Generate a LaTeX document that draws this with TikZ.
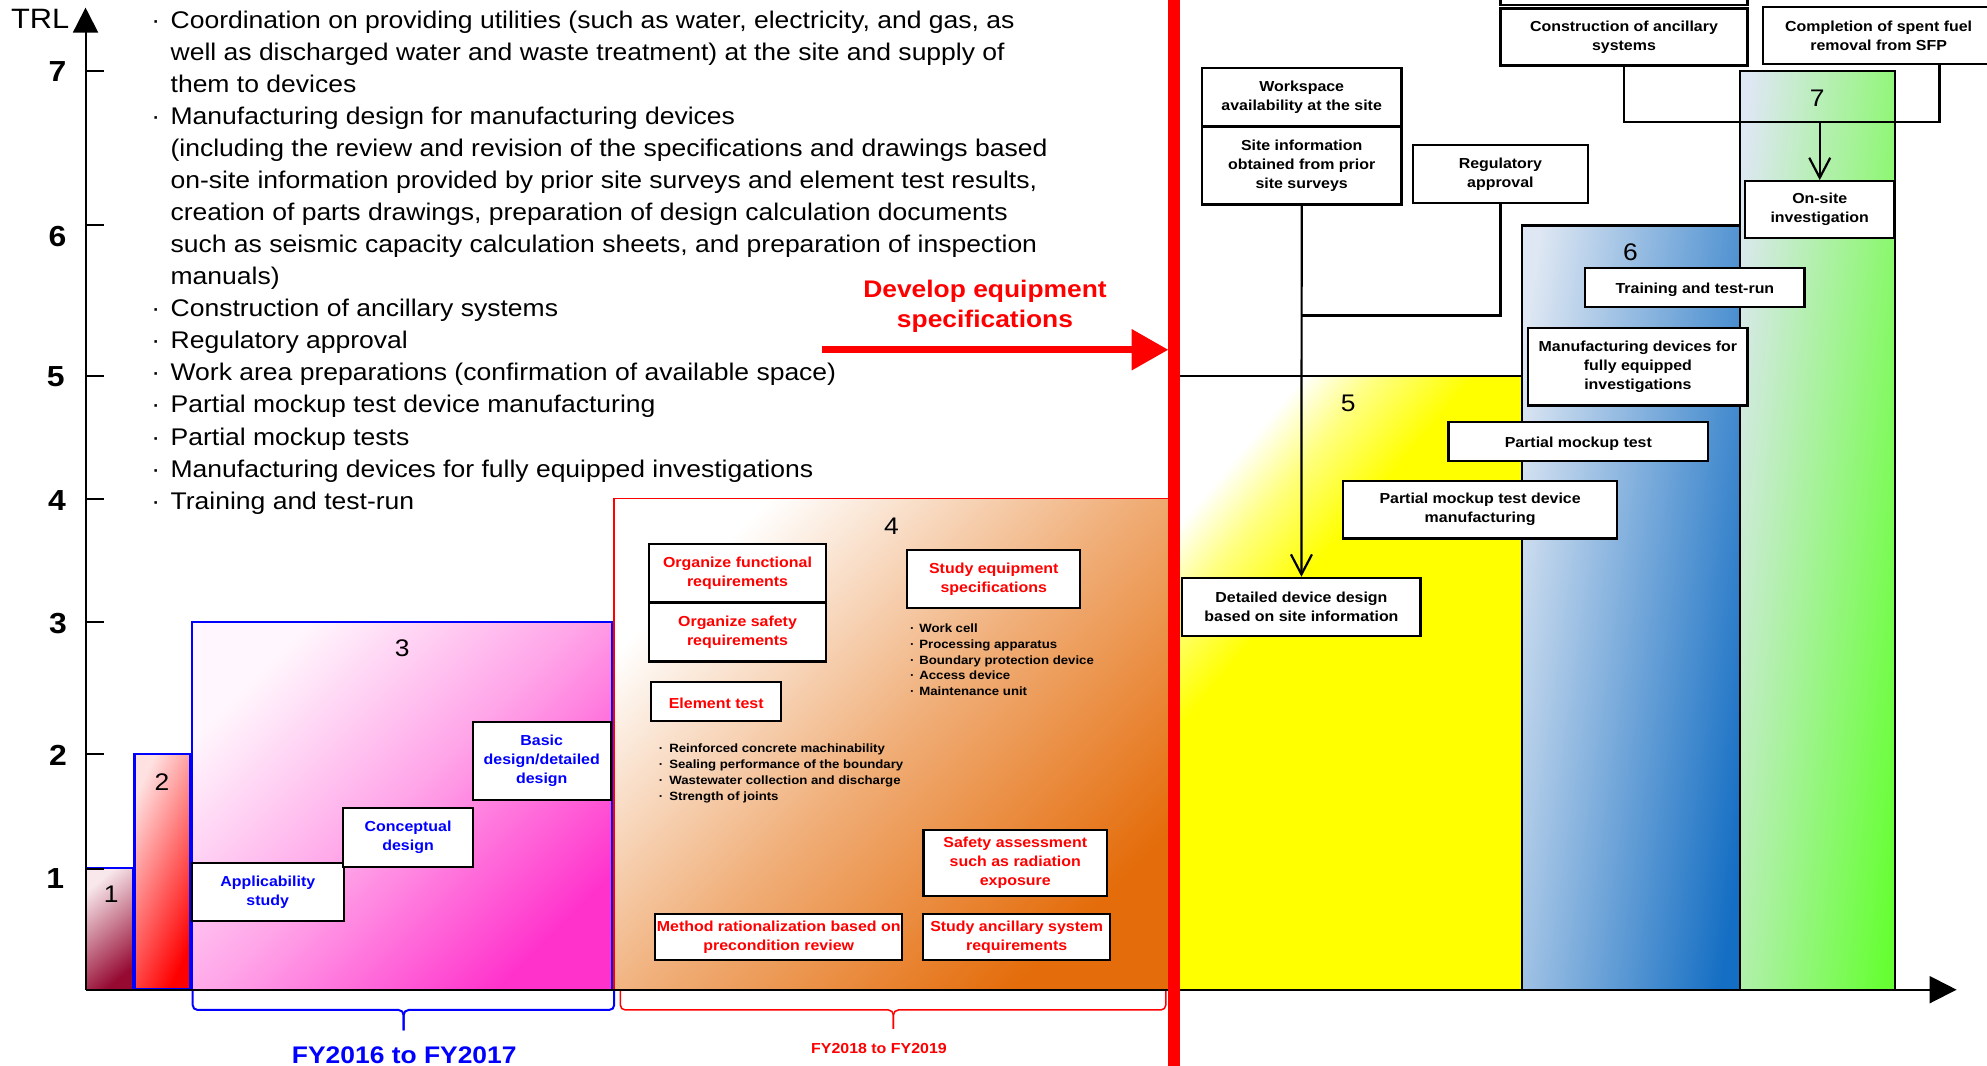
\documentclass[tikz,border=0pt]{standalone}
\usepackage{fontspec}
\setmainfont[FakeStretch=1.1]{Liberation Sans}
\usetikzlibrary{arrows.meta}

\definecolor{barOneDark}{RGB}{150,10,50}
\definecolor{barOneLight}{RGB}{248,232,236}
\definecolor{barTwoLight}{RGB}{255,225,225}
\definecolor{barThree}{RGB}{255,51,204}
\definecolor{barFour}{RGB}{228,108,10}
\definecolor{barSixLight}{RGB}{222,231,243}
\definecolor{barSix}{RGB}{20,110,195}
\definecolor{barSeven}{RGB}{102,255,51}

% white corner fading quickly into solid yellow
\pgfdeclarehorizontalshading{barfive}{100bp}{color(0bp)=(white); color(25bp)=(white); color(31bp)=(yellow!50!white); color(39bp)=(yellow); color(100bp)=(yellow)}

\newcommand\fList{\fontsize{24.1}{32}\selectfont}
\newcommand\fBox{\bfseries\fontsize{14.5}{19}\selectfont}
\newcommand\fBul{\bfseries\fontsize{12}{16}\selectfont}
\newcommand\fNum{\fontsize{24}{28}\selectfont}
\newcommand\fAxis{\bfseries\fontsize{29}{32}\selectfont}
\newcommand\fHead{\bfseries\fontsize{24}{29}\selectfont}
\newcommand\fPer{\bfseries\fontsize{24}{29}\selectfont}
\newcommand\fPerS{\bfseries\fontsize{14.5}{18}\selectfont}

\tikzset{
  bx/.style={draw=black,line width=2.2pt,fill=white,align=center,inner sep=0pt,font=\fBox,
    execute at begin node={\rule{0pt}{14.5pt}}},
  ml/.style={execute at begin node={\rule{0pt}{18.5pt}}},
  sz/.style 2 args={minimum width=#1*1.2672pt,minimum height=#2*1.2672pt},
  conn/.style={draw=black,line width=2.2pt},
  vtip/.style={-{Straight Barb[length=20pt,width=21pt]}},
  txt/.style={inner sep=0pt,anchor=base west},
  bul/.style={inner sep=0pt,anchor=base},
  num/.style={inner sep=0pt,font=\fNum},
  axnum/.style={inner sep=0pt,font=\fAxis},
}

\begin{document}
\begin{tikzpicture}[x=1.2672pt,y=-1.2672pt]
\clip (0,0) rectangle (1568,841);
\fill[white] (0,0) rectangle (1568,841);

% ---- TRL bars ----
\path[top color=barOneLight,bottom color=barOneDark,middle color=barOneDark!50!barOneLight,shading angle=40] (67.5,685) rectangle (105.3,781);
\path[top color=barTwoLight,bottom color=red,shading angle=65] (106.3,595) rectangle (149.8,781);
\path[top color=barThree!4!white,bottom color=barThree,middle color=barThree!45!white,shading angle=45] (151.4,490.6) rectangle (483.1,781);
\path[top color=white,bottom color=barFour,middle color=barFour!55!white,shading angle=45] (484.5,393.5) rectangle (922,781);
\path[shading=barfive,shading angle=-40] (930,296.6) rectangle (1201,781);
\path[top color=barSixLight,bottom color=barSix,shading angle=82] (1201,178) rectangle (1373,781);
\path[top color=barSixLight,bottom color=barSeven,shading angle=84] (1373,55.8) rectangle (1495.5,781);

\draw[blue,line width=2.5pt] (67.5,685) -- (105.3,685) -- (105.3,781);
\draw[blue,line width=2.5pt] (106.3,595) rectangle (149.8,781);
\draw[blue,line width=2.2pt] (151.4,490.6) rectangle (483.1,781);
\draw[red,line width=1.6pt] (484.5,393.5) rectangle (922,781);
\draw[black,line width=2.2pt] (930,296.6) rectangle (1201,781);
\draw[black,line width=2.2pt] (1201,178) rectangle (1373,781);
\draw[black,line width=2.2pt] (1373,55.8) rectangle (1495.5,781);

\node[num] (n1) at (87.7,705.6) {1};
\node[num] (n2) at (127.8,616.8) {2};
\node[num] (n3) at (317.3,511.7) {3};
\node[num] (n4) at (703.5,415.6) {4};
\node[num] (n5) at (1064,318) {5};
\node[num] (n6) at (1286.7,199) {6};
\node[num] (n7) at (1434,77.6) {7};

% ---- axes ----
\coordinate (origin) at (67.5,781);
\coordinate (ytop) at (67.5,6);
\coordinate (xend) at (1544,781);
\draw[line width=2pt,-{Triangle[length=25pt,width=25pt]}] (origin) -- (ytop);
\draw[line width=2pt,-{Triangle[length=27pt,width=27pt]}] (origin) -- (xend);
\foreach \y in {56,177.6,296.7,393.8,490.6,594.9,685.4}
  \draw[line width=2pt] (67.5,\y) -- (82,\y);
\node[inner sep=0pt,font=\fontsize{28}{30}\selectfont] (trl) at (31.7,14.5) {TRL};
\node[axnum] (a7) at (45.4,56.3) {7};
\node[axnum] (a6) at (45.4,186.5) {6};
\node[axnum] (a5) at (44,297.3) {5};
\node[axnum] (a4) at (45,394.6) {4};
\node[axnum] (a3) at (45.7,492) {3};
\node[axnum] (a2) at (45.7,596) {2};
\node[axnum] (a1) at (43.5,693) {1};

% ---- task list ----
\begin{scope}[font=\fList]
\foreach \t [count=\i from 0] in {
  {Coordination on providing utilities (such as water, electricity, and gas, as},
  {well as discharged water and waste treatment) at the site and supply of},
  {them to devices},
  {Manufacturing design for manufacturing devices},
  {(including the review and revision of the specifications and drawings based},
  {on-site information provided by prior site surveys and element test results,},
  {creation of parts drawings, preparation of design calculation documents},
  {such as seismic capacity calculation sheets, and preparation of inspection},
  {manuals)},
  {Construction of ancillary systems},
  {Regulatory approval},
  {Work area preparations (confirmation of available space)},
  {Partial mockup test device manufacturing},
  {Partial mockup tests},
  {Manufacturing devices for fully equipped investigations},
  {Training and test-run}}
  \node[txt] (list\i) at (134.5,{22.4+25.29*\i}) {\t};
\foreach \i in {0,3,9,10,11,12,13,14,15}
  \node[bul] (lbul\i) at (122.9,{22.4+25.29*\i}) {·};
\end{scope}

% ---- red boundary and arrow ----
\draw[red,line width=11.7pt] (926.5,-10) -- (926.5,850);
\coordinate (devA) at (649,276);
\coordinate (devB) at (922,276);
\draw[red,line width=7.4pt,-{Triangle[length=36.7pt,width=39.3pt]}] (devA) -- (devB);
\node[inner sep=0pt,anchor=base,font=\fHead,text=red] (dev1) at (777.3,235) {Develop equipment};
\node[inner sep=0pt,anchor=base,font=\fHead,text=red] (dev2) at (777.3,258.5) {specifications};

% ---- level 3 steps ----
\node[bx,ml,sz={119.8}{45.9},text=blue] (appl) at (211.3,703.8) {Applicability\\study};
\node[bx,ml,sz={102.7}{46.4},text=blue] (conc) at (322,660.8) {Conceptual\\design};
\node[bx,ml,sz={108.9}{61.2},text=blue] (basic) at (427.5,600.4) {Basic\\design/detailed\\design};

% ---- level 4 steps ----
\node[bx,ml,sz={140}{46},text=red] (ofr) at (582,452) {Organize functional\\requirements};
\node[bx,ml,sz={140}{46},text=red] (osr) at (582,499) {Organize safety\\requirements};
\node[bx,sz={102.5}{31},text=red] (elt) at (565.2,553.5) {Element test};
\node[bx,ml,sz={136.5}{46},text=red] (sesp) at (784.2,457) {Study equipment\\specifications};
\node[bx,ml,sz={145}{52.3},text=red] (safa) at (801.2,681.2) {Safety assessment\\such as radiation\\exposure};
\node[bx,ml,sz={195}{36.7},text=red] (meth) at (614.5,739.4) {Method rationalization based on\\precondition review};
\node[bx,ml,sz={147.4}{36.7},text=red] (anc) at (802.3,739.4) {Study ancillary system\\requirements};

\begin{scope}[font=\fBul]
\foreach \t [count=\i from 0] in {Work cell,Processing apparatus,Boundary protection device,Access device,Maintenance unit}{
  \node[txt] (eq\i) at (725.3,{498.8+12.6*\i}) {\t};
  \node[bul] (eqb\i) at (720,{498.8+12.6*\i}) {·};
}
\foreach \t [count=\i from 0] in {Reinforced concrete machinability,Sealing performance of the boundary,Wastewater collection and discharge,Strength of joints}{
  \node[txt] (el\i) at (528,{594+12.65*\i}) {\t};
  \node[bul] (elb\i) at (521.6,{594+12.65*\i}) {·};
}
\end{scope}

% ---- levels 5 to 7 steps ----
\node[bx,sz={195}{45}] (prev) at (1281.5,-18.5) {};
\node[bx,ml,sz={195}{45}] (constr) at (1281.5,29.2) {Construction of ancillary\\systems};
\node[bx,ml,sz={183}{45.2}] (compl) at (1482.5,27.9) {Completion of spent fuel\\removal from SFP};
\node[bx,ml,sz={118}{45}] (onsite) at (1436,165.5) {On-site\\investigation};
\node[bx,sz={173}{30.5}] (train) at (1337.5,226.8) {Training and test-run};
\node[bx,ml,sz={173}{61}] (mfgdev) at (1292.5,289.5) {Manufacturing devices for\\fully equipped\\investigations};
\node[bx,sz={205}{31}] (pmt) at (1245.5,348.5) {Partial mockup test};
\node[bx,ml,sz={216}{45.5}] (pmtd) at (1168,402.2) {Partial mockup test device\\manufacturing};
\node[bx,ml,sz={188}{46}] (detail) at (1027,479) {Detailed device design\\based on site information};
\node[bx,ml,sz={157.5}{46}] (wsa) at (1027.2,76.6) {Workspace\\availability at the site};
\node[bx,ml,sz={157.5}{61.5}] (siteinfo) at (1027.2,130.7) {Site information\\obtained from prior\\site surveys};
\node[bx,ml,sz={138}{45.5}] (reg) at (1184,137.2) {Regulatory\\approval};

\coordinate (cr) at (1530.5,96);
\coordinate (jr) at (1027.2,249);
\draw[conn] (constr.south) |- (cr) -- (cr |- compl.south);
\draw[conn,vtip] (onsite.north |- cr) -- (onsite.north);
\draw[conn,vtip] (siteinfo.south) -- (detail.north);
\draw[conn] (reg.south) |- (jr);

% ---- period braces ----
\draw[blue,line width=2pt,rounded corners=5pt] (152,782) -- (152,797) -- (318.5,797) -- (318.5,813);
\draw[blue,line width=2pt,rounded corners=5pt] (484.7,782) -- (484.7,797) -- (318.5,797) -- (318.5,813);
\draw[red,line width=1.5pt,rounded corners=5pt] (489.5,782) -- (489.5,797) -- (705,797) -- (705,812);
\draw[red,line width=1.5pt,rounded corners=5pt] (920,782) -- (920,797) -- (705,797) -- (705,812);
\node[inner sep=0pt,anchor=base,font=\fPer,text=blue] (fy1) at (319,839) {FY2016 to FY2017};
\node[inner sep=0pt,anchor=base,font=\fPerS,text=red] (fy2) at (693.6,831.5) {FY2018 to FY2019};
\end{tikzpicture}
\end{document}
